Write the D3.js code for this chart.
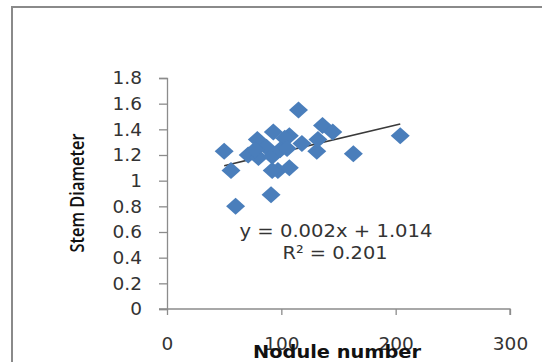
<!DOCTYPE html>
<html>
<head>
<meta charset="utf-8">
<script src="https://d3js.org/d3.v7.min.js"></script>
<style>
  body { margin: 0; background: #fff; }
  svg { display: block; }
</style>
</head>
<body>
<div id="chart"></div>
<script>
var width = 542;
var height = 362;

// nodule number vs stem diameter
var noduleNumber = [50, 56, 60, 91, 93, 115, 204, 163, 136, 145, 131, 79, 132, 118, 107, 103, 97, 107, 92, 71, 80, 87, 92, 99, 105, 77];
var stemDiameter = [1.23, 1.08, 0.80, 0.89, 1.38, 1.55, 1.35, 1.21, 1.43, 1.38, 1.23, 1.32, 1.32, 1.29, 1.35, 1.33, 1.08, 1.10, 1.08, 1.20, 1.18, 1.26, 1.19, 1.24, 1.25, 1.24];
var xTicks = [0, 100, 200, 300];
var yTicks = [0, 0.2, 0.4, 0.6, 0.8, 1, 1.2, 1.4, 1.6, 1.8];
var equationText = "y = 0.002x + 1.014";
var r2Text = "R\u00b2 = 0.201";

var points = noduleNumber.map(function(d, i) { return {x: d, y: stemDiameter[i]}; });

var svg = d3.select("#chart")
    .append("svg")
      .attr("width", width)
      .attr("height", height);

svg.append("rect")
    .attr("width", width).attr("height", height)
    .attr("fill", "#fff");

// outer chart frame, cut off on the right and bottom
svg.append("rect")
    .attr("x", 12).attr("y", 7)
    .attr("width", 620).attr("height", 420)
    .attr("fill", "none")
    .attr("stroke", "#8a8a8a")
    .attr("stroke-width", 2);

var x = d3.scaleLinear().domain([0, 300]).range([167, 510]);
var y = d3.scaleLinear().domain([0, 1.8]).range([309, 78]);

var axisColor = "#8c8c8c";
var tickFont = "DejaVu Sans, Verdana, sans-serif";

var yAxis = svg.append("g")
    .attr("transform", "translate(" + x(0) + ",0)")
    .call(d3.axisLeft(y).tickValues(yTicks).tickSize(8).tickPadding(17)
        .tickFormat(function(d) { return d3.format("")(+d.toFixed(1)); }));

var xAxis = svg.append("g")
    .attr("transform", "translate(0," + y(0) + ")")
    .call(d3.axisBottom(x).tickValues(xTicks).tickSize(6).tickPadding(22));

[xAxis, yAxis].forEach(function(g) {
    g.select(".domain").attr("stroke", axisColor).attr("stroke-width", 1.3);
    g.selectAll(".tick line").attr("stroke", axisColor).attr("stroke-width", 1.3);
    g.selectAll(".tick text")
        .attr("fill", "#333")
        .style("font-family", tickFont)
        .style("font-size", "18.5px");
});
xAxis.select(".domain").attr("d", "M" + (x(0) - 8) + ",0H" + x(300) + "V6");

// trend line from least squares fit
var mx = d3.mean(points, function(d) { return d.x; });
var my = d3.mean(points, function(d) { return d.y; });
var sxy = d3.sum(points, function(d) { return (d.x - mx) * (d.y - my); });
var sxx = d3.sum(points, function(d) { return (d.x - mx) * (d.x - mx); });
var slope = sxy / sxx;
var intercept = my - slope * mx;
var xr = d3.extent(points, function(d) { return d.x; });

svg.append("line")
    .attr("x1", x(xr[0])).attr("y1", y(intercept + slope * xr[0]))
    .attr("x2", x(xr[1])).attr("y2", y(intercept + slope * xr[1]))
    .attr("stroke", "#3a3a3a")
    .attr("stroke-width", 1.6);

var diamond = "M0,-8.5L9.5,0L0,8.5L-9.5,0Z";

svg.append("g")
    .selectAll("path")
    .data(points)
    .enter().append("path")
      .attr("d", diamond)
      .attr("transform", function(d) { return "translate(" + x(d.x) + "," + y(d.y) + ")"; })
      .attr("fill", "#4a7ebb");

svg.append("text")
    .attr("x", 336).attr("y", 237)
    .attr("text-anchor", "middle")
    .attr("fill", "#333")
    .attr("textLength", 193)
    .attr("lengthAdjust", "spacingAndGlyphs")
    .style("font-family", tickFont)
    .style("font-size", "18px")
    .text(equationText);

svg.append("text")
    .attr("x", 335).attr("y", 259)
    .attr("text-anchor", "middle")
    .attr("fill", "#333")
    .attr("textLength", 105)
    .attr("lengthAdjust", "spacingAndGlyphs")
    .style("font-family", tickFont)
    .style("font-size", "18px")
    .text(r2Text);

svg.append("text")
    .attr("x", 337).attr("y", 358)
    .attr("text-anchor", "middle")
    .attr("fill", "#111")
    .attr("textLength", 168)
    .attr("lengthAdjust", "spacingAndGlyphs")
    .style("font-family", tickFont)
    .style("font-weight", "bold")
    .style("font-size", "18px")
    .text("Nodule number");

svg.append("text")
    .attr("transform", "translate(84,193) rotate(-90)")
    .attr("text-anchor", "middle")
    .attr("fill", "#111")
    .attr("textLength", 119)
    .attr("lengthAdjust", "spacingAndGlyphs")
    .style("font-family", "'Open Sans', sans-serif")
    .style("font-weight", "600")
    .style("font-size", "20px")
    .text("Stem Diameter");
</script>
</body>
</html>
